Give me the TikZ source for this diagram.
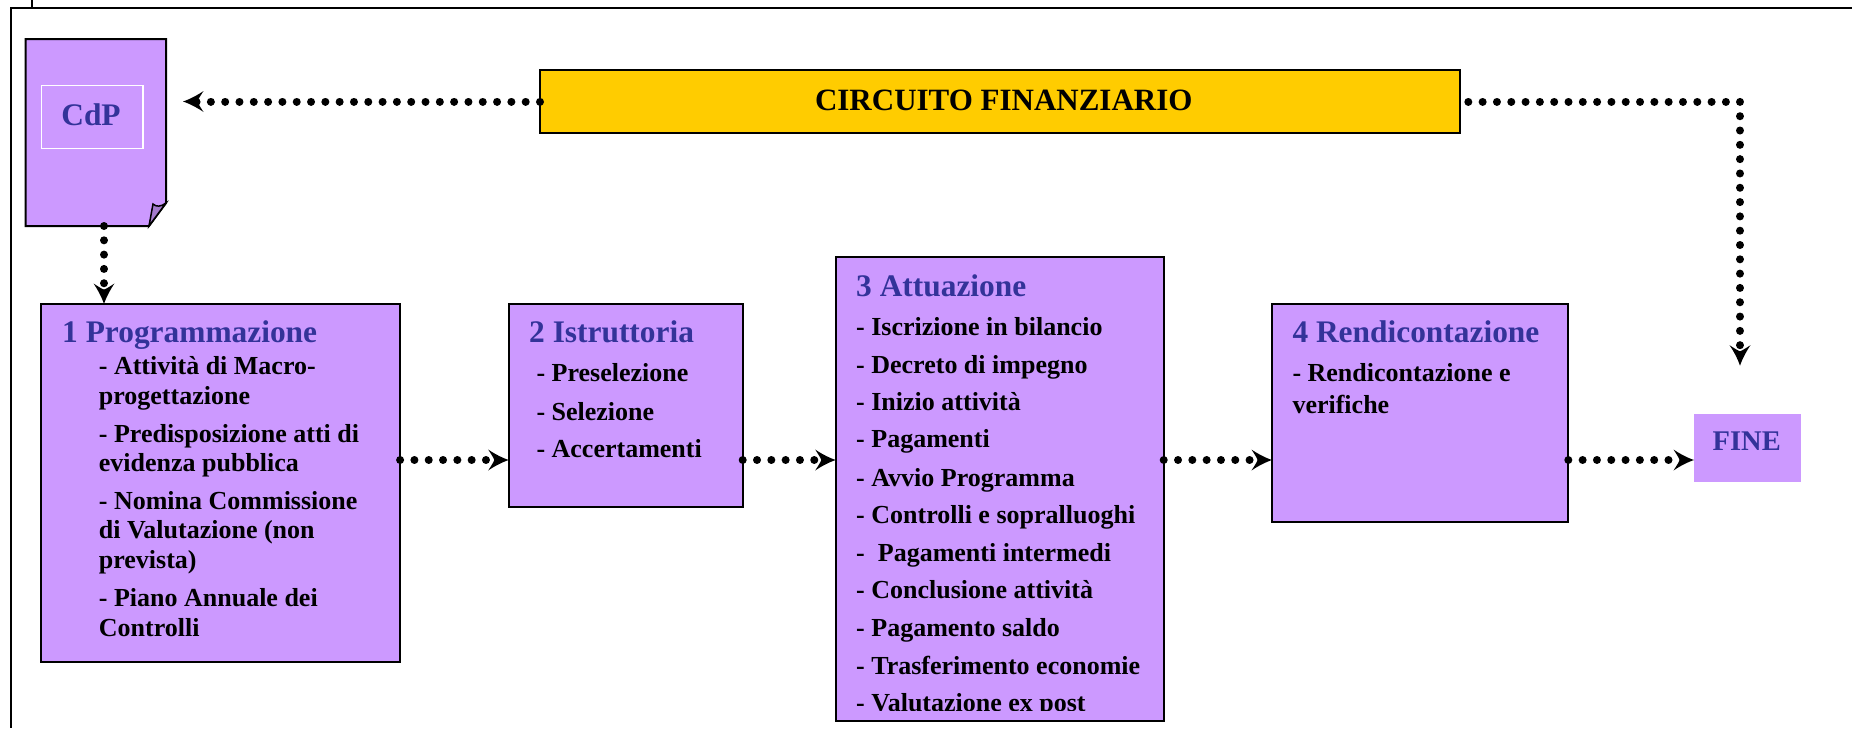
\documentclass[tikz,border=0pt]{standalone}
\usepackage{fontspec}
\setmainfont{Liberation Serif}
\usetikzlibrary{arrows.meta}
\definecolor{boxfill}{HTML}{CC99FF}
\definecolor{titleblue}{HTML}{333399}
\definecolor{banner}{HTML}{FFCC00}
\definecolor{foldfill}{HTML}{A37ACC}
\pgfdeclarearrow{
  name=BigHead,
  setup code={
    \pgfarrowssettipend{20.5pt}
    \pgfarrowssetlineend{9pt}
    \pgfarrowssetvisualbackend{0pt}
    \pgfarrowssetbackend{0pt}
  },
  drawing code={
    \pgfpathmoveto{\pgfpoint{20.5pt}{0pt}}
    \pgfpathcurveto{\pgfpoint{13pt}{2.5pt}}{\pgfpoint{5pt}{7pt}}{\pgfpoint{0pt}{10.5pt}}
    \pgfpathcurveto{\pgfpoint{3.5pt}{5pt}}{\pgfpoint{5.5pt}{2pt}}{\pgfpoint{6pt}{0pt}}
    \pgfpathcurveto{\pgfpoint{5.5pt}{-2pt}}{\pgfpoint{3.5pt}{-5pt}}{\pgfpoint{0pt}{-10.5pt}}
    \pgfpathcurveto{\pgfpoint{5pt}{-7pt}}{\pgfpoint{13pt}{-2.5pt}}{\pgfpoint{20.5pt}{0pt}}
    \pgfpathclose
    \pgfusepathqfill
  }
}
\tikzset{
  box/.style={draw=black,line width=2pt,fill=boxfill,inner sep=0pt,outer sep=0pt,anchor=north west},
  ttl/.style={anchor=base west,inner sep=0pt,text=titleblue,font=\fontsize{31.4}{31.4}\selectfont\bfseries},
  itm/.style={anchor=base west,inner sep=0pt,text=black,font=\fontsize{26}{26}\selectfont\bfseries},
  flow/.style={line width=8pt,line cap=round,dash pattern=on 0.01pt off 14.3pt,-BigHead},
}
\begin{document}
\begin{tikzpicture}[x=1pt,y=-1pt]
\useasboundingbox (0,0) rectangle (1852,728);
\draw[line width=2pt] (31.8,0) -- (31.8,8.3);
\draw[line width=2pt] (1852,8.3) -- (10.7,8.3) -- (10.7,728);
% document
\path[fill=boxfill,draw=black,line width=2pt,line join=miter] (25.6,39) -- (166,39) -- (166,203) -- (149,226) -- (25.6,226) -- cycle;
\path[fill=foldfill,draw=black,line width=1.5pt] (149,226) -- (153,204) .. controls (156,207) and (161,207) .. (166,203) -- cycle;
\node[inner sep=0pt,outer sep=0pt,minimum width=140.4pt,minimum height=187pt,anchor=north west] (doc) at (25.6,39) {};
\node[draw=white,line width=1.5pt,inner sep=0pt,outer sep=0pt,minimum width=101.7pt,minimum height=63pt,anchor=north west] (inner) at (41.3,85.7) {};
\node[ttl,anchor=base] (cdp) at (91,125.7) {CdP};
% banner
\node[box,fill=banner,minimum width=920pt,minimum height=63pt] (fin) at (540,70) {};
\node[anchor=base,inner sep=0pt,font=\fontsize{31}{31}\selectfont\bfseries] (fint) at (1003.8,110) {CIRCUITO FINANZIARIO};
% boxes
\node[box,minimum width=358.7pt,minimum height=358pt] (b1) at (41.4,304) {};
\node[box,minimum width=234pt,minimum height=202.7pt] (b2) at (508.7,304) {};
\node[box,minimum width=328pt,minimum height=463.7pt] (b3) at (835.7,257) {};
\node[box,minimum width=296.3pt,minimum height=218.3pt] (b4) at (1272,304) {};
\node[box,draw=none,minimum width=107pt,minimum height=67.7pt] (b5) at (1694,414) {};
% box 1
\node[ttl] (t1) at (62,342.7) {1 Programmazione};
\node[itm] (a1) at (98.7,374) {- Attività di Macro-};
\node[itm] (a2) at (98.7,404.3) {progettazione};
\node[itm] (a3) at (98.7,442) {- Predisposizione atti di};
\node[itm] (a4) at (98.7,471.7) {evidenza pubblica};
\node[itm] (a5) at (98.7,509) {- Nomina Commissione};
\node[itm] (a6) at (98.7,538.7) {di Valutazione (non};
\node[itm] (a7) at (98.7,568.7) {prevista)};
\node[itm] (a8) at (98.7,606.7) {- Piano Annuale dei};
\node[itm] (a9) at (98.7,636.7) {Controlli};
% box 2
\node[ttl] (t2) at (529,342.7) {2 Istruttoria};
\node[itm] (c1) at (536.3,381.7) {- Preselezione};
\node[itm] (c2) at (536.3,420) {- Selezione};
\node[itm] (c3) at (536.3,457.7) {- Accertamenti};
% box 3
\node[ttl] (t3) at (856,296.7) {3 Attuazione};
\node[itm] (d1) at (856,335) {- Iscrizione in bilancio};
\node[itm] (d2) at (856,373) {- Decreto di impegno};
\node[itm] (d3) at (856,410.7) {- Inizio attività};
\node[itm] (d4) at (856,447.7) {- Pagamenti};
\node[itm] (d5) at (856,486) {- Avvio Programma};
\node[itm] (d6) at (856,523) {- Controlli e sopralluoghi};
\node[itm] (d7) at (856,561) {-\ \ Pagamenti intermedi};
\node[itm] (d8) at (856,598) {- Conclusione attività};
\node[itm] (d9) at (856,636.7) {- Pagamento saldo};
\node[itm] (d10) at (856,674) {- Trasferimento economie};
\begin{scope}
\clip (840,690) rectangle (1160,710.5);
\node[itm] (d11) at (856,711) {- Valutazione ex post};
\end{scope}
% box 4
\node[ttl] (t4) at (1292.3,342.7) {4 Rendicontazione};
\node[itm] (e1) at (1292.3,381.7) {- Rendicontazione e};
\node[itm] (e2) at (1292.3,413.3) {verifiche};
% fine
\node[ttl,anchor=base,font=\fontsize{28.5}{28.5}\selectfont\bfseries] (t5) at (1746.7,450) {FINE};
% connectors
\coordinate (row) at (0,460);
\coordinate (cx) at (104,0);
\coordinate (corner) at (1740,101.7);
\coordinate (fintip) at (1740,365.7);
\coordinate (lefttip) at (183,101.7);
\draw[flow] (fin.west) -- (fin.west -| lefttip);
\draw[flow,dash phase=6pt] (fin.east |- corner) -- (corner) -- (fintip);
\draw[flow] (doc.south -| cx) -- (b1.north -| cx);
\draw[flow] (b1.east |- row) -- (b2.west |- row);
\draw[flow] (b2.east |- row) -- (b3.west |- row);
\draw[flow] (b3.east |- row) -- (b4.west |- row);
\draw[flow] (b4.east |- row) -- (b5.west |- row);
\end{tikzpicture}
\end{document}
